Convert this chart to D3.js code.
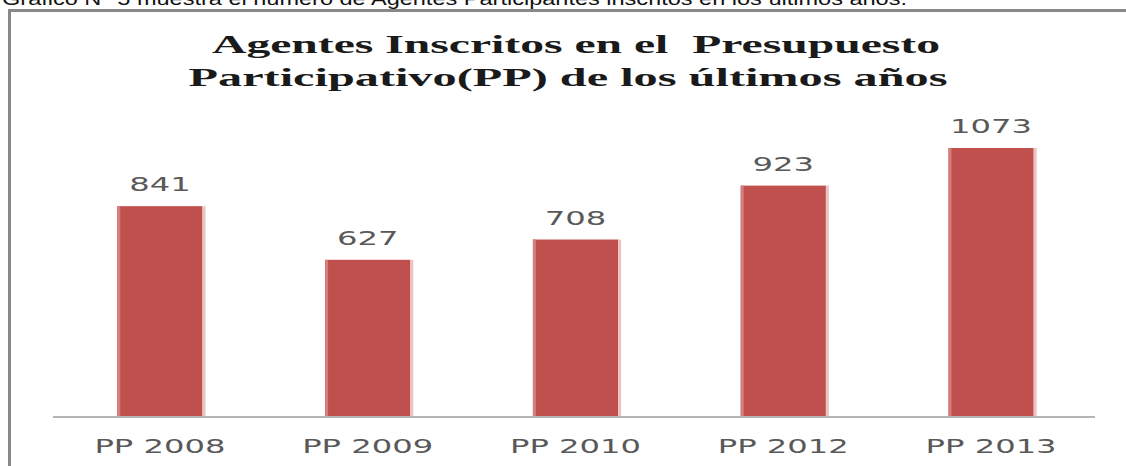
<!DOCTYPE html>
<html>
    <head>
        <title>Agentes Inscritos en el Presupuesto Participativo</title>
        <meta charset="utf-8">
        <script src="https://d3js.org/d3.v7.min.js"></script>
        <style>
            body { margin: 0; background: #fff; }
            svg { display: block; }
            .title { white-space: pre; }
        </style>
    </head>
    <body>
        <div id="container"></div>
        <script>
            // Data
            const categories = ["PP 2008", "PP 2009", "PP 2010", "PP 2012", "PP 2013"]
            const agentes = [841, 627, 708, 923, 1073]
            const titleLines = ["Agentes Inscritos en el  Presupuesto", "Participativo(PP) de los últimos años"]
            const caption = "Gráfico N° 5 muestra el número de Agentes Participantes inscritos en los últimos años."

            const w = 1126
            const h = 466
            const baseline = 417

            const svg = d3.select("#container")
                .append("svg")
                .attr("width", w)
                .attr("height", h)

            // Caption above the frame (cut off at the top, as in the source)
            svg.append("text")
                .attr("x", 2)
                .attr("y", 5)
                .attr("font-family", "Liberation Sans, Arial, sans-serif")
                .attr("font-size", 18)
                .attr("fill", "#111")
                .attr("textLength", 905)
                .attr("lengthAdjust", "spacingAndGlyphs")
                .text(caption)

            // Frame
            svg.append("line")
                .attr("x1", 8).attr("x2", w)
                .attr("y1", 10.5).attr("y2", 10.5)
                .attr("stroke", "#888").attr("stroke-width", 3)
            svg.append("line")
                .attr("x1", 9.5).attr("x2", 9.5)
                .attr("y1", 9).attr("y2", h)
                .attr("stroke", "#888").attr("stroke-width", 3)

            // Title
            const titleX = [576, 568]
            const titleY = [53, 86]
            const titleLen = [728, 759]
            svg.selectAll(".title")
                .data(titleLines)
                .enter()
                .append("text")
                .attr("class", "title")
                .attr("x", (d, i) => titleX[i])
                .attr("y", (d, i) => titleY[i])
                .attr("text-anchor", "middle")
                .attr("font-family", "Liberation Serif, Times New Roman, serif")
                .attr("font-weight", "bold")
                .attr("font-size", 25)
                .attr("fill", "#1a1a1a")
                .attr("textLength", (d, i) => titleLen[i])
                .attr("lengthAdjust", "spacingAndGlyphs")
                .text(d => d)

            // Scales
            const xScale = d3.scaleBand()
                .domain(categories)
                .range([56, 1095])
                .paddingInner(0.59)
                .paddingOuter(0.295)

            const yScale = d3.scaleLinear()
                .domain([0, 1200])
                .range([baseline, baseline - 1200 * 0.2507])

            // Bars
            const bars = svg.selectAll(".bar")
                .data(agentes)
                .enter()
                .append("g")
                .attr("class", "bar")

            bars.append("rect")
                .attr("x", (d, i) => xScale(categories[i]))
                .attr("y", d => yScale(d))
                .attr("width", xScale.bandwidth())
                .attr("height", d => yScale(0) - yScale(d))
                .attr("fill", "#C0504D")

            // soft light edges
            bars.append("rect")
                .attr("x", (d, i) => xScale(categories[i]) + xScale.bandwidth())
                .attr("y", d => yScale(d))
                .attr("width", 3)
                .attr("height", d => yScale(0) - yScale(d))
                .attr("fill", "#EBC3C2")
            bars.append("rect")
                .attr("x", (d, i) => xScale(categories[i]))
                .attr("y", d => yScale(d))
                .attr("width", 3)
                .attr("height", d => yScale(0) - yScale(d))
                .attr("fill", "#D47F7D")

            // Value labels
            bars.append("text")
                .attr("x", (d, i) => xScale(categories[i]) + xScale.bandwidth() / 2)
                .attr("y", d => yScale(d) - 15)
                .attr("text-anchor", "middle")
                .attr("font-family", "DejaVu Sans, Verdana, sans-serif")
                .attr("font-size", 19)
                .attr("fill", "#595959")
                .attr("textLength", d => String(d).length * 20.5)
                .attr("lengthAdjust", "spacingAndGlyphs")
                .text(d => d)

            // Axis
            const xAxis = d3.axisBottom(xScale).tickSize(0).tickPadding(23)
            const axisG = svg.append("g")
                .attr("transform", "translate(0," + baseline + ")")
                .call(xAxis)
            axisG.select(".domain")
                .attr("d", "M53,0H1095")
                .attr("stroke", "#B5B5B5")
                .attr("stroke-width", 2)
            axisG.selectAll(".tick text")
                .attr("font-family", "DejaVu Sans, Verdana, sans-serif")
                .attr("font-size", 19)
                .attr("fill", "#595959")
                .attr("textLength", 131)
                .attr("lengthAdjust", "spacingAndGlyphs")
        </script>
    </body>
</html>
